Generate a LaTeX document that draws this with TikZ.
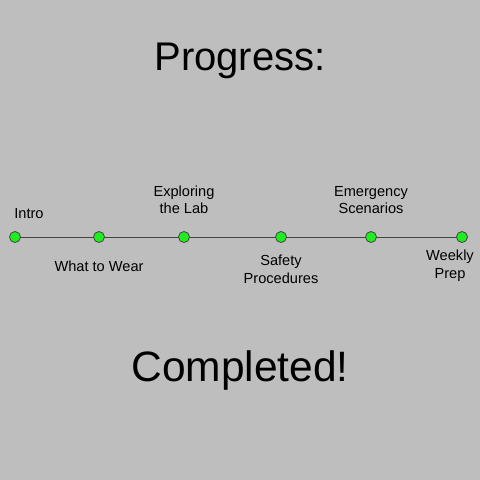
\documentclass[tikz,border=0pt]{standalone}
\usepackage{fontspec}
\setmainfont{Liberation Sans}
\definecolor{bggray}{HTML}{BEBEBE}
\definecolor{dotgreen}{HTML}{1EEE1E}
\definecolor{linegray}{HTML}{444444}
\tikzset{
  stop/.style={circle, draw=linegray, fill=dotgreen, line width=0.8pt,
    minimum size=11pt, inner sep=0pt},
  lbl/.style={align=center, font=\fontsize{14.6}{17.5}\selectfont, inner sep=0pt},
  headline/.style={font=\fontsize{40}{48}\selectfont, inner sep=0pt}
}
\begin{document}
\begin{tikzpicture}[x=1pt,y=1pt]
  \fill[bggray] (0,0) rectangle (480,480);
  \useasboundingbox (0,0) rectangle (480,480);

  \node[headline] (title) at (240,419) {Progress:};
  \node[headline, font=\fontsize{42.5}{50}\selectfont] (done) at (240,109) {Completed!};

  % timeline
  \coordinate (start) at (15,243);
  \coordinate (end) at (462,243);
  \draw[linegray, line width=0.8pt] (start) -- (end);

  \node[stop] (intro) at (15,243) {};
  \node[stop] (wear) at (99,243) {};
  \node[stop] (lab) at (184,243) {};
  \node[stop] (safety) at (281,243) {};
  \node[stop] (emerg) at (371,243) {};
  \node[stop] (weekly) at (462,243) {};

  % labels, alternating above and below
  \node[lbl] (intro-l) at ([shift={(14,23)}]intro) {Intro};
  \node[lbl] (wear-l) at ([shift={(0,-29)}]wear) {What to Wear};
  \node[lbl] (lab-l) at ([shift={(0,37)}]lab) {Exploring\\the Lab};
  \node[lbl] (safety-l) at ([shift={(0,-32.5)}]safety) {Safety\\Procedures};
  \node[lbl] (emerg-l) at ([shift={(0,37)}]emerg) {Emergency\\Scenarios};
  \node[lbl] (weekly-l) at ([shift={(-12,-28.5)}]weekly) {Weekly\\Prep};
\end{tikzpicture}
\end{document}
